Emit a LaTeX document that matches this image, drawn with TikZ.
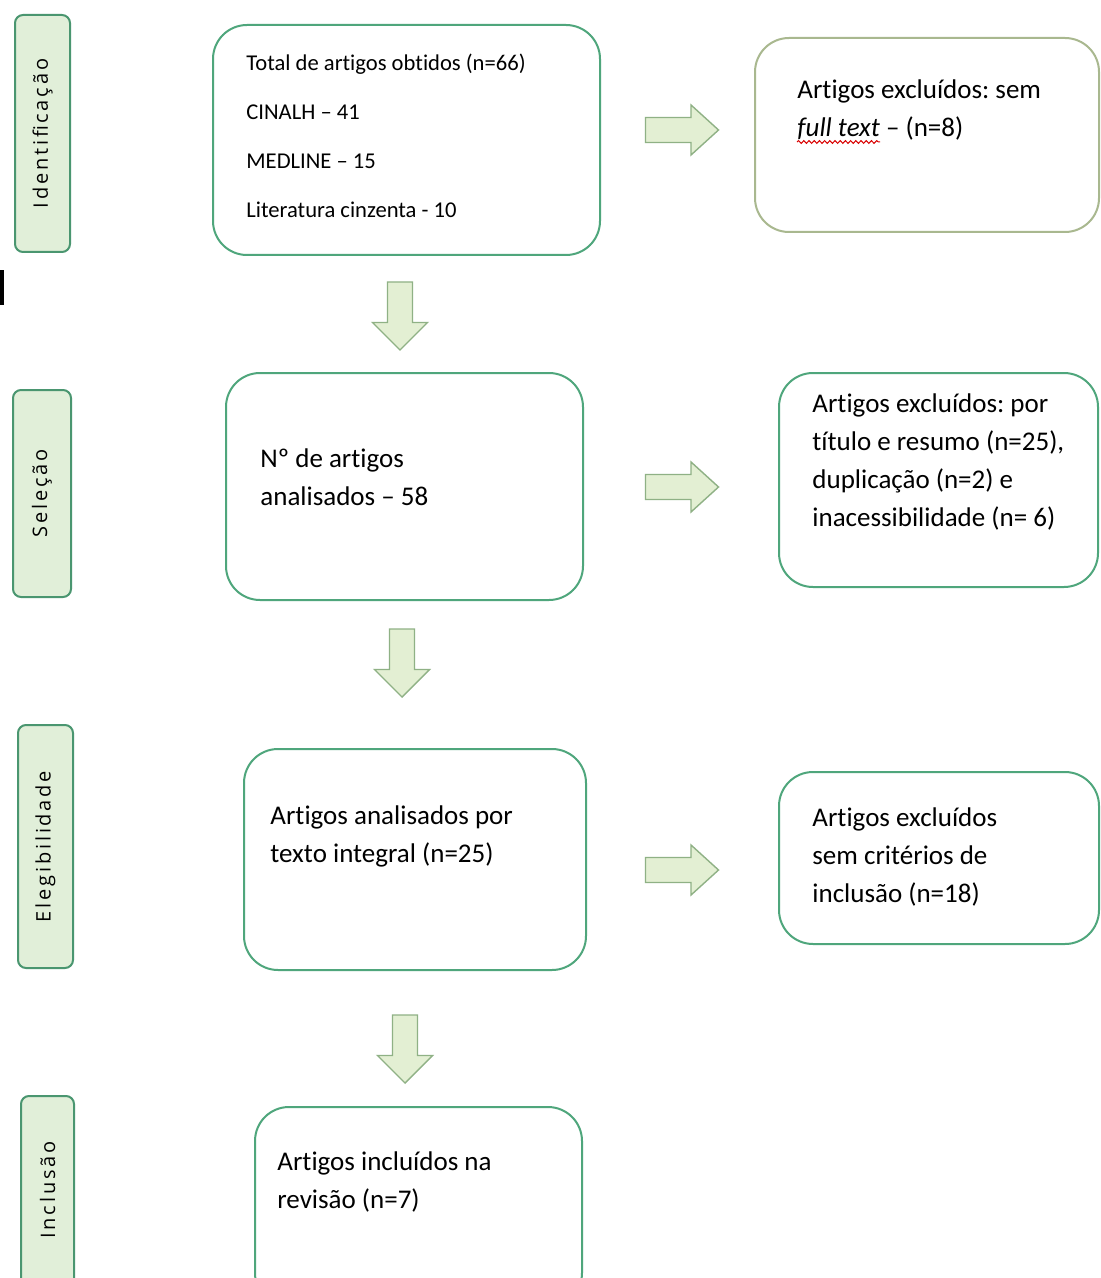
\documentclass[tikz,border=0pt]{standalone}
\usepackage{fontspec}
\setmainfont[RawFeature={-liga;-clig;-calt;-dlig}]{Carlito}
\newfontfamily\labelfont[LetterSpace=14]{Open Sans}
\usetikzlibrary{decorations.pathmorphing}
\frenchspacing
\definecolor{boxgreen}{HTML}{4FA67C}
\definecolor{olivebox}{HTML}{A9B88F}
\definecolor{labfill}{HTML}{E1EFD9}
\definecolor{labdraw}{HTML}{4A9670}
\definecolor{arrfill}{HTML}{E3EFD3}
\definecolor{arrdraw}{HTML}{8FB185}
\tikzset{
  mainbox/.style={draw=boxgreen, line width=1pt, rounded corners=17pt, inner sep=0pt, fill=white},
  sidebox/.style={mainbox},
  phase/.style={draw=labdraw, fill=labfill, line width=1pt, rounded corners=4pt, inner sep=0pt},
  phasetext/.style={rotate=90, font=\labelfont\fontsize{10}{12}\selectfont, inner sep=0pt},
  txt/.style={anchor=base west, inner sep=0pt, align=left, font=\fontsize{13.5}{19}\selectfont},
  smalltxt/.style={anchor=base west, inner sep=0pt, align=left, font=\fontsize{11.3}{24.5}\selectfont},
  blockarrow/.style={draw=arrdraw, fill=arrfill, line width=0.7pt, line join=miter},
  downarrow/.pic={\draw[blockarrow] (-12.5,-34) -- (12.5,-34) -- (12.5,6.5) -- (27.5,6.5) -- (0,34) -- (-27.5,6.5) -- (-12.5,6.5) -- cycle;},
  rightarrow/.pic={\draw[blockarrow] (-36.5,-12.5) -- (9,-12.5) -- (9,-25) -- (36.5,0) -- (9,25) -- (9,12.5) -- (-36.5,12.5) -- cycle;}
}
\begin{document}
\begin{tikzpicture}[x=0.5pt,y=-0.5pt]
\clip (0,0) rectangle (1100,1278);
\fill[white] (0,0) rectangle (1100,1278);

% phase labels
\node[phase, minimum width=27.5pt, minimum height=118.5pt] (l1) at (42.5,133.5) {};
\node[phasetext] (l1t) at (l1.center) {Identificação};
\node[phase, minimum width=29pt, minimum height=103.5pt] (l2) at (42,493.5) {};
\node[phasetext] (l2t) at (l2.center) {Seleção};
\node[phase, minimum width=27.5pt, minimum height=121.5pt] (l3) at (45.5,846.5) {};
\node[phasetext] (l3t) at (l3.center) {Elegibilidade};
\node[phase, minimum width=26.5pt, minimum height=102pt] (l4) at (47.5,1198) {};
\node[phasetext] (l4t) at (l4.center |- 0,1190) {Inclusão};

% small black mark
\fill[black] (0,270) rectangle (4,305);

% main boxes
\node[mainbox, minimum width=193.5pt, minimum height=115pt] (b1) at (406.5,140) {};
\node[smalltxt] (b1t) at (246,218) {Total de artigos obtidos (n=66)\\CINALH – 41\\MEDLINE – 15\\Literatura cinzenta - 10};

\node[mainbox, minimum width=178.5pt, minimum height=113.5pt] (b2) at (404.5,486.5) {};
\node[txt] (b2t) at (260,505) {Nº de artigos\\analisados – 58};

\node[mainbox, minimum width=171pt, minimum height=110.5pt] (b3) at (415,859.5) {};
\node[txt] (b3t) at (270,862) {Artigos analisados por\\texto integral (n=25)};

\node[mainbox, minimum width=163.5pt, minimum height=100pt] (b4) at (418.5,1207) {};
\node[txt] (b4t) at (277,1208) {Artigos incluídos na\\revisão (n=7)};

% side boxes
\node[sidebox, draw=olivebox, minimum width=172pt, minimum height=97pt] (r1) at (927,135) {};
\node[txt] (r1t) at (797,137) {Artigos excluídos: sem\\\textit{full text} – (n=8)};
\draw[red!85!black, line width=0.5pt, decorate, decoration={snake, amplitude=0.7pt, segment length=2.6pt}]
  ([yshift=-2.5pt]r1t.base west) -- ++(83,0);

\node[sidebox, minimum width=159.5pt, minimum height=107pt] (r2) at (938.5,480) {};
\node[txt] (r2t) at (812,526) {Artigos excluídos: por\\título e resumo (n=25),\\duplicação (n=2) e\\inacessibilidade (n= 6)};

\node[sidebox, minimum width=160pt, minimum height=86pt] (r3) at (939,858) {};
\node[txt] (r3t) at (812,902) {Artigos excluídos\\sem critérios de\\inclusão (n=18)};

% block arrows
\pic at (400,316) {downarrow};
\pic at (402,663) {downarrow};
\pic at (405,1049) {downarrow};
\pic at (682,130) {rightarrow};
\pic at (682,487) {rightarrow};
\pic at (682,870) {rightarrow};
\end{tikzpicture}
\end{document}
